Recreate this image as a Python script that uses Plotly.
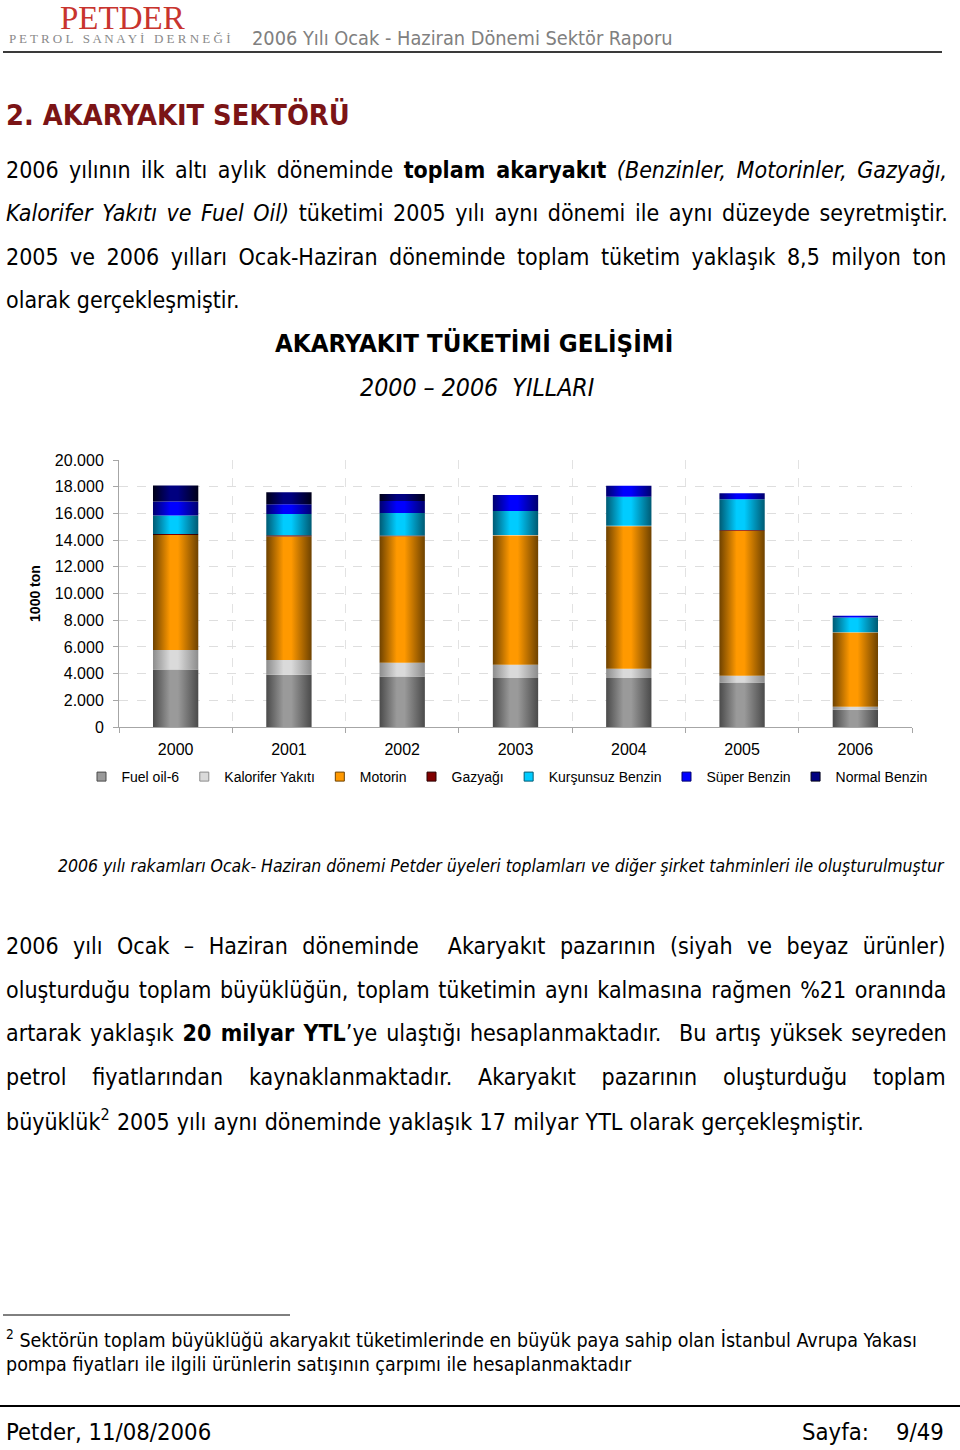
import plotly.graph_objects as go

# page size in pixels
W, H = 960, 1450

def px(x):
    return x / W

def py(y):
    return 1 - y / H

# chart data, 1000 ton
years = ['2000', '2001', '2002', '2003', '2004', '2005', '2006']
fuel_oil = [4315, 3916, 3791, 3666, 3665, 3336, 1294]
kalorifer = [1446, 1097, 1022, 998, 696, 501, 224]
motorin = [8629, 9253, 9467, 9676, 10679, 10861, 5568]
gazyagi = [75, 100, 60, 50, 40, 60, 20]
kursunsuz = [1372, 1597, 1697, 1796, 2169, 2297, 1092]
super_benzin = [1047, 723, 898, 1197, 823, 448, 127]
normal_benzin = [1198, 898, 523, 0, 0, 0, 0]

series_names = ['Fuel oil-6', 'Kalorifer Yakıtı', 'Motorin', 'Gazyağı',
                'Kurşunsuz Benzin', 'Süper Benzin', 'Normal Benzin']
series_values = [fuel_oil, kalorifer, motorin, gazyagi, kursunsuz, super_benzin, normal_benzin]

# (edge, centre) colours for the shaded "cylinder" look
series_colors = [('#4a4a4a', '#9a9a9a'), ('#8c8c8c', '#dadada'), ('#6e4200', '#ff9900'),
                 ('#2a0000', '#800000'), ('#005a73', '#00ccff'), ('#00006e', '#0000ff'),
                 ('#000018', '#000080')]

BODY = 'DejaVu Sans Condensed, DejaVu Sans'
CHART = 'Liberation Sans, Arial'

fig = go.Figure()

half = 0.2
base = [0] * len(years)
for name, vals, (edge, mid) in zip(series_names, series_values, series_colors):
    scale = [[0, edge], [0.38, mid], [0.55, mid], [1, edge]]
    for i, v in enumerate(vals):
        if v <= 0:
            continue
        b, t = base[i], base[i] + v
        fig.add_trace(go.Scatter(
            x=[i - half, i + half, i + half, i - half, i - half],
            y=[b, b, t, t, b],
            mode='lines', line=dict(width=0), fill='toself',
            fillgradient=dict(type='horizontal', colorscale=scale),
            name=name, legendgroup=name, showlegend=False,
            hovertemplate=name + ' ' + years[i] + ': %{customdata}<extra></extra>',
            customdata=[v] * 5
        ))
        base[i] = t
    # legend entry
    fig.add_trace(go.Scatter(
        x=[None], y=[None], mode='markers', name=name, legendgroup=name,
        marker=dict(symbol='square', size=9, color=mid, line=dict(width=1, color=edge))
    ))

fig.update_layout(
    width=W, height=H,
    margin=dict(l=0, r=0, t=0, b=0, autoexpand=False),
    paper_bgcolor='white', plot_bgcolor='white',
    separators=',.',
    showlegend=True,
    legend=dict(orientation='h', x=px(507), xanchor='center', y=py(777), yanchor='middle',
                font=dict(family=CHART, size=14, color='#000'), itemwidth=30,
                traceorder='normal'),
    xaxis=dict(domain=[px(119), px(912)], range=[-0.5, 6.5],
               tickmode='array', tickvals=list(range(len(years))), ticktext=years,
               ticks='', showgrid=False, zeroline=False,
               showline=True, linecolor='#a6a6a6', linewidth=1,
               ticklabelstandoff=8,
               tickfont=dict(family=CHART, size=16, color='#000'),
               minor=dict(tick0=0.5, dtick=1, ticks='outside', ticklen=5, tickcolor='#a6a6a6',
                          showgrid=True, gridcolor='#e2e2e2', griddash='dash')),
    yaxis=dict(domain=[py(727), py(460)], range=[0, 20000], dtick=2000, tickformat=',d',
               ticks='outside', ticklen=5, tickcolor='#a6a6a6',
               showline=True, linecolor='#a6a6a6', zeroline=False,
               showgrid=True, gridcolor='#dedede', griddash='dash',
               ticklabelstandoff=6,
               tickfont=dict(family=CHART, size=16, color='#000'),
               title=dict(text='<b>1000 ton</b>', standoff=10,
                          font=dict(family=CHART, size=14, color='#000'))),
)

annotations = []

def text(x, y, s, size, anchor='left', family=BODY, color='#000'):
    annotations.append(dict(x=px(x), y=py(y), xref='paper', yref='paper', text=s,
                            showarrow=False, xanchor=anchor, yanchor='middle',
                            font=dict(family=family, size=size, color=color)))

def just(s, ws):
    # widen the gaps between words, like the justified lines of the reference
    return '<span style="word-spacing:%.1fpx">%s</span>' % (ws, s)

NBSP = '\u00a0'

# header
text(122, 18, 'PETDER', 33, 'center', 'Liberation Serif', '#c8342e')
text(120, 38, 'P E T R O L   S A N A Y İ   D E R N E Ğ İ', 13, 'center', 'Liberation Serif', '#8a8a8a')
text(250, 38, '2006 Yılı Ocak - Haziran Dönemi Sektör Raporu', 19.8, 'left', BODY, '#808080')

# section title and first paragraph
text(4, 115, '<b>2. AKARYAKIT SEKTÖRÜ</b>', 28.7, 'left', BODY, '#7b1416')
text(4, 170, just('2006 yılının ilk altı aylık döneminde <b>toplam akaryakıt</b> <i>(Benzinler, Motorinler, Gazyağı,</i>', 3.9), 23)
text(4, 213, just('<i>Kalorifer Yakıtı ve Fuel Oil)</i> tüketimi 2005 yılı aynı dönemi ile aynı düzeyde seyretmiştir.', 3.0), 23)
text(4, 257, just('2005 ve 2006 yılları Ocak-Haziran döneminde toplam tüketim yaklaşık 8,5 milyon ton', 4.9), 23)
text(4, 300, 'olarak gerçekleşmiştir.', 23)

# chart titles
text(474, 343, '<b>AKARYAKIT TÜKETİMİ GELİŞİMİ</b>', 25.6, 'center')
text(477, 387, '<i>2000 – 2006  YILLARI</i>', 24.7, 'center')

# caption
text(947, 866, '<i>2006 yılı rakamları Ocak- Haziran dönemi Petder üyeleri toplamları ve diğer şirket tahminleri ile oluşturulmuştur</i>', 17.5, 'right')

# second paragraph
text(4, 946, just('2006 yılı Ocak – Haziran döneminde  Akaryakıt pazarının (siyah ve beyaz ürünler)', 7.9), 23)
text(4, 990, just('oluşturduğu toplam büyüklüğün, toplam tüketimin aynı kalmasına rağmen %21 oranında', 2.1), 23)
text(4, 1033, just('artarak yaklaşık <b>20 milyar YTL</b>’ye ulaştığı hesaplanmaktadır.  Bu artış yüksek seyreden', 2.2), 23)
text(4, 1077, just('petrol fiyatlarından kaynaklanmaktadır. Akaryakıt pazarının oluşturduğu toplam', 19.3), 23)
text(4, 1120, just('büyüklük<sup>2</sup> 2005 yılı aynı döneminde yaklaşık 17 milyar YTL olarak gerçekleşmiştir.', 0.7), 23)

# footnote
text(4, 1339, '<sup>2</sup> Sektörün toplam büyüklüğü akaryakıt tüketimlerinde en büyük paya sahip olan İstanbul Avrupa Yakası', 19.5)
text(4, 1364, 'pompa fiyatları ile ilgili ürünlerin satışının çarpımı ile hesaplanmaktadır', 19.5)

# footer
text(4, 1432, 'Petder, 11/08/2006', 23.7)
text(946, 1432, 'Sayfa:' + NBSP * 4 + '9/49', 23.7, 'right')

fig.update_layout(annotations=annotations)

# page rules
fig.add_shape(type='line', xref='paper', yref='paper', x0=px(3), x1=px(942), y0=py(52), y1=py(52),
              line=dict(color='#3a3a3a', width=2))
fig.add_shape(type='line', xref='paper', yref='paper', x0=px(3), x1=px(290), y0=py(1315), y1=py(1315),
              line=dict(color='#000', width=1))
fig.add_shape(type='line', xref='paper', yref='paper', x0=px(0), x1=px(960), y0=py(1406), y1=py(1406),
              line=dict(color='#000', width=2))

# the page body has a default 8px margin; drop it so the figure fills the window
fig.write_html("out.html", config={'displayModeBar': False},
               post_script="document.body.style.margin='0px';")
